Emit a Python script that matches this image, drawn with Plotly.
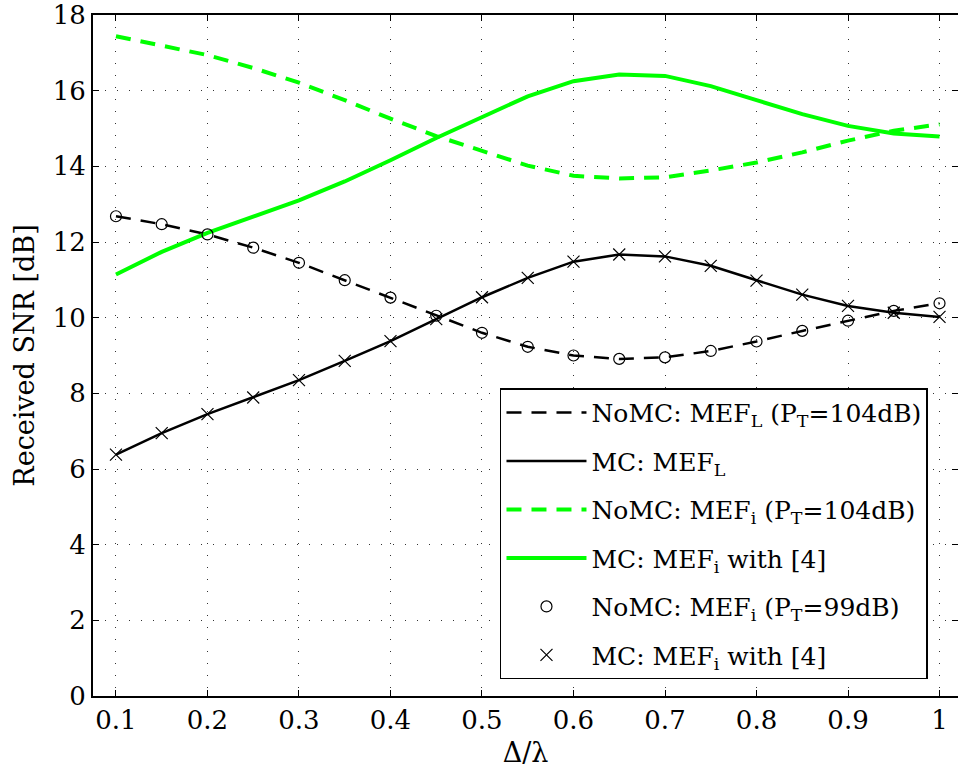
import plotly.graph_objects as go

x = [0.10, 0.15, 0.20, 0.25, 0.30, 0.35, 0.40, 0.45, 0.50, 0.55,
     0.60, 0.65, 0.70, 0.75, 0.80, 0.85, 0.90, 0.95, 1.00]

nomc_L_104 = [12.68, 12.47, 12.20, 11.85, 11.45, 10.99, 10.53, 10.05, 9.60, 9.23,
              9.00, 8.91, 8.95, 9.12, 9.37, 9.65, 9.92, 10.18, 10.38]
mc_L = [6.38, 6.95, 7.45, 7.89, 8.35, 8.86, 9.38, 9.96, 10.54, 11.05,
        11.48, 11.67, 11.62, 11.37, 10.98, 10.61, 10.31, 10.13, 10.02]
nomc_i_104 = [17.44, 17.20, 16.94, 16.60, 16.21, 15.75, 15.26, 14.80, 14.40, 14.02,
              13.75, 13.68, 13.71, 13.89, 14.10, 14.37, 14.68, 14.94, 15.11]
mc_i = [11.14, 11.74, 12.24, 12.66, 13.10, 13.60, 14.16, 14.75, 15.30, 15.85,
        16.25, 16.43, 16.39, 16.12, 15.75, 15.38, 15.07, 14.87, 14.79]
nomc_i_99 = nomc_L_104
mc_i_4 = mc_L

names = [
    "NoMC: MEF<sub>L</sub> (P<sub>T</sub>=104dB)",
    "MC: MEF<sub>L</sub>",
    "NoMC: MEF<sub>i</sub> (P<sub>T</sub>=104dB)",
    "MC: MEF<sub>i</sub> with [4]",
    "NoMC: MEF<sub>i</sub> (P<sub>T</sub>=99dB)",
    "MC: MEF<sub>i</sub> with [4]",
]
yticks = [0, 2, 4, 6, 8, 10, 12, 14, 16, 18]
xticks = [0.1, 0.2, 0.3, 0.4, 0.5, 0.6, 0.7, 0.8, 0.9, 1.0]
xticklabels = ["0.1", "0.2", "0.3", "0.4", "0.5", "0.6", "0.7", "0.8", "0.9", "1"]

GREEN = "#00ff00"
FONT = "DejaVu Serif"

fig = go.Figure()
fig.add_trace(go.Scatter(x=x, y=nomc_L_104, mode="lines", name=names[0], legendgroup="g1",
                         line=dict(color="black", width=2.5, dash="15px,10px")))
fig.add_trace(go.Scatter(x=x, y=mc_L, mode="lines", name=names[1], legendgroup="g2",
                         line=dict(color="black", width=2.5)))
fig.add_trace(go.Scatter(x=x, y=nomc_i_104, mode="lines", name=names[2], legendgroup="g3",
                         line=dict(color=GREEN, width=4, dash="15px,10px")))
fig.add_trace(go.Scatter(x=x, y=mc_i, mode="lines", name=names[3], legendgroup="g4",
                         line=dict(color=GREEN, width=4)))
fig.add_trace(go.Scatter(x=x, y=nomc_i_99, mode="markers", name=names[4], legendgroup="g5",
                         marker=dict(symbol="circle-open", size=11, color="black",
                                     line=dict(width=1.2, color="black"))))
fig.add_trace(go.Scatter(x=x, y=mc_i_4, mode="markers", name=names[5], legendgroup="g6",
                         marker=dict(symbol="x-thin-open", size=12, color="black",
                                     line=dict(width=1.2, color="black"))))
# invisible trace for right-side ticks
fig.add_trace(go.Scatter(x=[x[0]], y=[yticks[0]], yaxis="y2", mode="markers",
                         marker=dict(opacity=0), showlegend=False, hoverinfo="skip"))

fig.update_layout(
    width=958, height=775,
    margin=dict(l=93, r=0, t=12, b=79),
    paper_bgcolor="white", plot_bgcolor="white",
    font=dict(family=FONT, size=26, color="black"),
    xaxis=dict(range=[0.0749, 1.0202], tickvals=xticks, ticktext=xticklabels,
               ticks="inside", ticklen=6, tickwidth=1, tickcolor="black",
               showline=True, linecolor="black", linewidth=2, mirror="ticks",
               showgrid=True, gridcolor="#333", gridwidth=1, griddash="1px,11px",
               zeroline=False, ticklabeloverflow="allow",
               title=dict(text="Δ/λ", font=dict(size=27), standoff=9),
               tickfont=dict(size=26)),
    yaxis=dict(range=[0, 18], tickvals=yticks,
               ticks="inside", ticklen=6, tickwidth=1, tickcolor="black",
               showline=True, linecolor="black", linewidth=2, mirror=False,
               showgrid=True, gridcolor="#333", gridwidth=1, griddash="1px,11px",
               zeroline=False, ticklabeloverflow="allow",
               title=dict(text="Received SNR [dB]", font=dict(size=27), standoff=10),
               tickfont=dict(size=26)),
    yaxis2=dict(range=[0, 18], tickvals=yticks, overlaying="y", side="right",
                ticks="inside", ticklen=6, tickwidth=1, tickcolor="black",
                showticklabels=False, showgrid=False, showline=False, zeroline=False),
    legend=dict(x=0.4705, y=0.452, xanchor="left", yanchor="top",
                bgcolor="white", bordercolor="black", borderwidth=1.5,
                font=dict(family=FONT, size=25), tracegroupgap=13,
                itemwidth=80),
    showlegend=True,
)

fig.write_html("out.html")
